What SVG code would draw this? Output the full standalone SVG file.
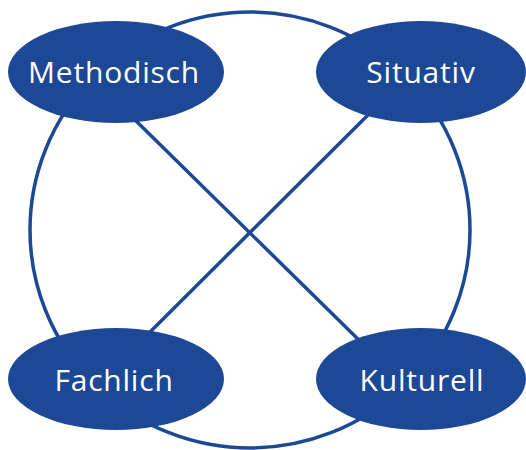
<svg xmlns="http://www.w3.org/2000/svg" width="526" height="450" viewBox="0 0 526 450">
<style>
.edge{fill:none;stroke:#1c4896;stroke-width:3.5}
.node ellipse{fill:#1c4896}
.node text{fill:#ffffff;font-family:"Open Sans","Liberation Sans",sans-serif;font-size:30px;letter-spacing:0.8px;text-anchor:middle}
</style>
<rect width="526" height="450" fill="#ffffff"/>
<g id="connectors">
<ellipse class="edge" cx="250" cy="230" rx="220" ry="218"/>
<line class="edge" x1="130" y1="115" x2="365" y2="346"/>
<line class="edge" x1="374" y1="109" x2="142" y2="340"/>
</g>
<g id="methodisch" class="node"><ellipse cx="116" cy="72" rx="108" ry="51"/><text x="114" y="83">Methodisch</text></g>
<g id="situativ" class="node"><ellipse cx="421" cy="72" rx="105" ry="51"/><text x="421" y="83">Situativ</text></g>
<g id="fachlich" class="node"><ellipse cx="116" cy="379" rx="108" ry="51"/><text x="114" y="391">Fachlich</text></g>
<g id="kulturell" class="node"><ellipse cx="421" cy="379" rx="105" ry="51"/><text x="422" y="391">Kulturell</text></g>
</svg>
